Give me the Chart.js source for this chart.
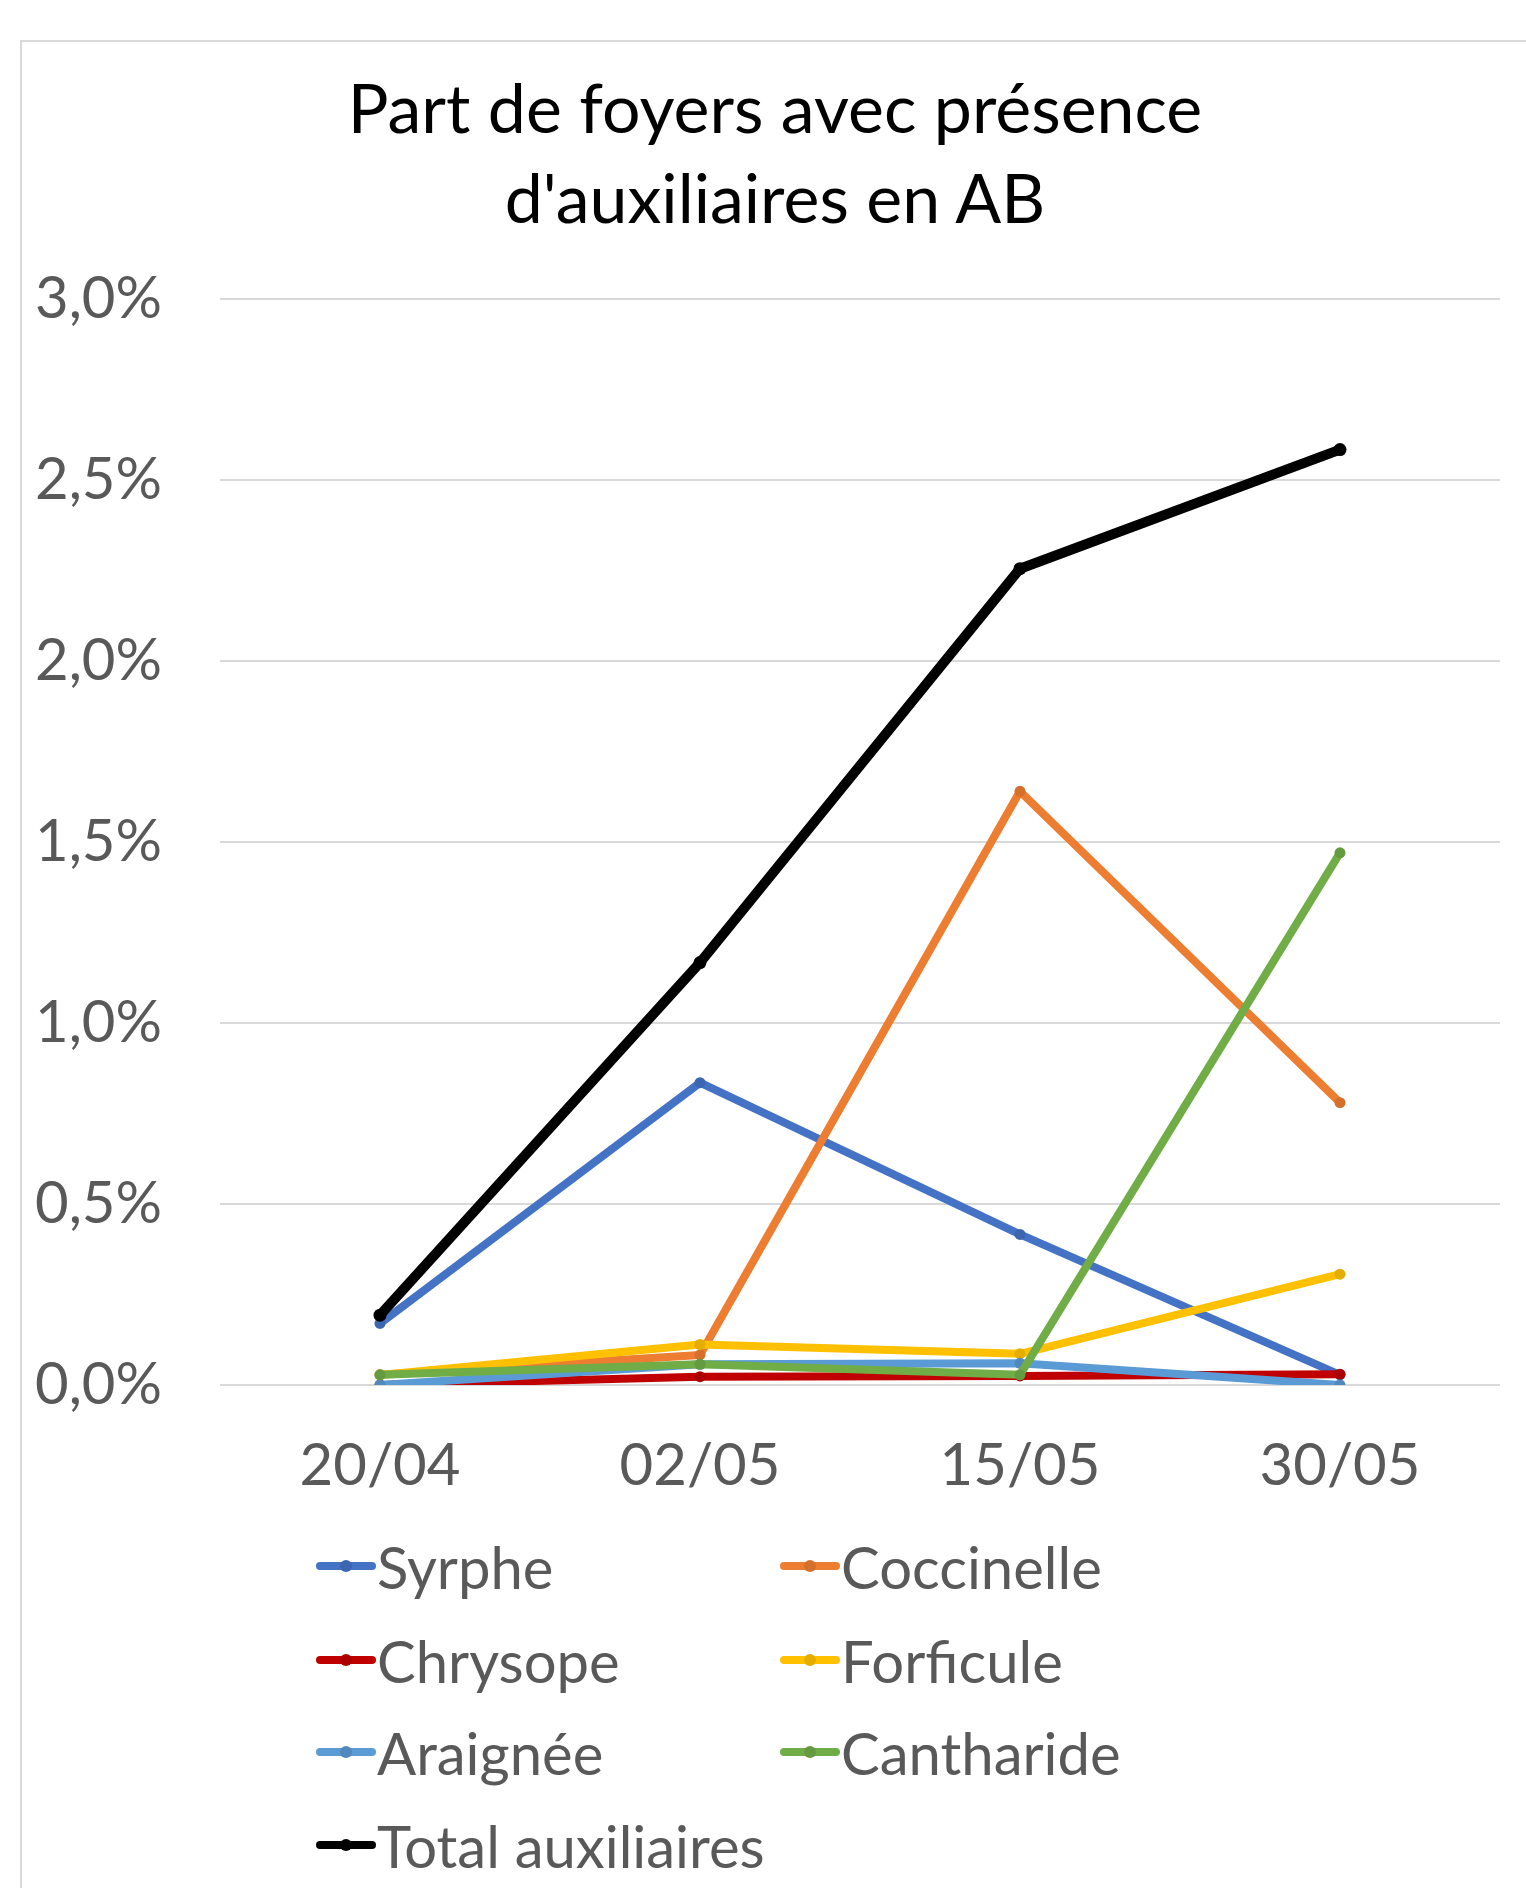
<!DOCTYPE html>
<html lang="fr">
<head>
<meta charset="utf-8">
<script src="https://cdn.jsdelivr.net/npm/chart.js@4.4.1/dist/chart.umd.min.js"></script>
<style>
    html, body { margin: 0; padding: 0; background: #fff; overflow: hidden; }
    #page { position: relative; width: 1526px; height: 1888px; overflow: hidden; font-family: Lato, sans-serif; }
    #frame { position: absolute; left: 20px; top: 40px; width: 1540px; height: 1900px; border: 2px solid #d9d9d9; box-sizing: border-box; }
    #title { position: absolute; left: 20px; width: 1510px; top: 62px; text-align: center; font-size: 68px; line-height: 90px; color: #000; }
    #chart { position: absolute; left: 0; top: 0; }
    .item { position: absolute; height: 90px; display: flex; align-items: center; white-space: nowrap; }
    .swatch { position: relative; width: 60px; height: 8px; border-radius: 4px; }
    .swatch i { position: absolute; left: 24px; top: -2px; width: 12px; height: 12px; border-radius: 6px; }
    .item span { font-size: 58px; color: #595959; margin-left: 1px; }
</style>
</head>
<body>
<div id="page">
    <div id="frame"></div>
    <div id="title">Part de foyers avec présence<br>d'auxiliaires en AB</div>
    <canvas id="chart" width="1526" height="1888"></canvas>
    <div id="legend"></div>
</div>
<script>
// values in %
var dates = ['20/04', '02/05', '15/05', '30/05'];
var syrphe = [0.17, 0.835, 0.416, 0.028];
var coccinelle = [0.028, 0.083, 1.64, 0.78];
var chrysope = [0, 0.023, 0.025, 0.03];
var forficule = [0.028, 0.112, 0.086, 0.306];
var araignee = [0, 0.057, 0.06, 0];
var cantharide = [0.028, 0.057, 0.028, 1.47];
var total = [0.193, 1.167, 2.255, 2.584];

var seriesNames = ['Syrphe', 'Coccinelle', 'Chrysope', 'Forficule', 'Araignée', 'Cantharide', 'Total auxiliaires'];
var seriesData = [syrphe, coccinelle, chrysope, forficule, araignee, cantharide, total];
var lineColors = ['#4472C4', '#ED7D31', '#C00000', '#FFC000', '#5B9BD5', '#70AD47', '#000000'];
var dotColors = ['#3d66b0', '#d4702c', '#ad0000', '#e5ad00', '#5189bf', '#659b40', '#000000'];

var datasets = seriesData.map(function (values, i) {
    return {
        label: seriesNames[i],
        data: values,
        borderColor: lineColors[i],
        backgroundColor: dotColors[i],
        pointBackgroundColor: dotColors[i],
        pointBorderWidth: 0,
        pointRadius: i === 6 ? 6.5 : 5.5,
        borderWidth: i === 6 ? 10 : 8,
        borderCapStyle: 'round',
        borderJoinStyle: 'round',
        tension: 0,
        fill: false,
        order: seriesNames.length - i   // later series on top, like the original
    };
});

new Chart(document.getElementById('chart'), {
    type: 'line',
    data: { labels: dates, datasets: datasets },
    options: {
        responsive: false,
        animation: false,
        devicePixelRatio: 1,
        layout: { padding: { left: 20, top: 299, right: 26, bottom: 353 } },
        plugins: {
            legend: { display: false },
            tooltip: { enabled: false }
        },
        scales: {
            y: {
                min: 0,
                max: 3,
                ticks: {
                    stepSize: 0.5,
                    padding: 58,
                    color: '#595959',
                    font: { family: 'Lato', size: 58 },
                    callback: function (v) { return v.toFixed(1).replace('.', ',') + '%'; }
                },
                grid: { color: '#d9d9d9', lineWidth: 2, drawTicks: false },
                border: { display: false },
                afterFit: function (scale) { scale.width = 200; }
            },
            x: {
                offset: true,
                ticks: {
                    padding: 46,
                    color: '#595959',
                    font: { family: 'Lato', size: 58 }
                },
                grid: { display: false, drawTicks: false },
                border: { display: false },
                afterFit: function (scale) { scale.height = 150; }
            }
        }
    }
});

// legend in two columns, as in the original
var legend = document.getElementById('legend');
var colLeft = [316, 780];
var rowCenter = [1566, 1660, 1752, 1845];
seriesNames.forEach(function (name, i) {
    var item = document.createElement('div');
    item.className = 'item';
    item.style.left = colLeft[i % 2] + 'px';
    item.style.top = (rowCenter[Math.floor(i / 2)] - 45) + 'px';
    var sw = document.createElement('div');
    sw.className = 'swatch';
    sw.style.background = lineColors[i];
    var dot = document.createElement('i');
    dot.style.background = dotColors[i];
    sw.appendChild(dot);
    var txt = document.createElement('span');
    txt.textContent = name;
    item.appendChild(sw);
    item.appendChild(txt);
    legend.appendChild(item);
});
</script>
</body>
</html>
